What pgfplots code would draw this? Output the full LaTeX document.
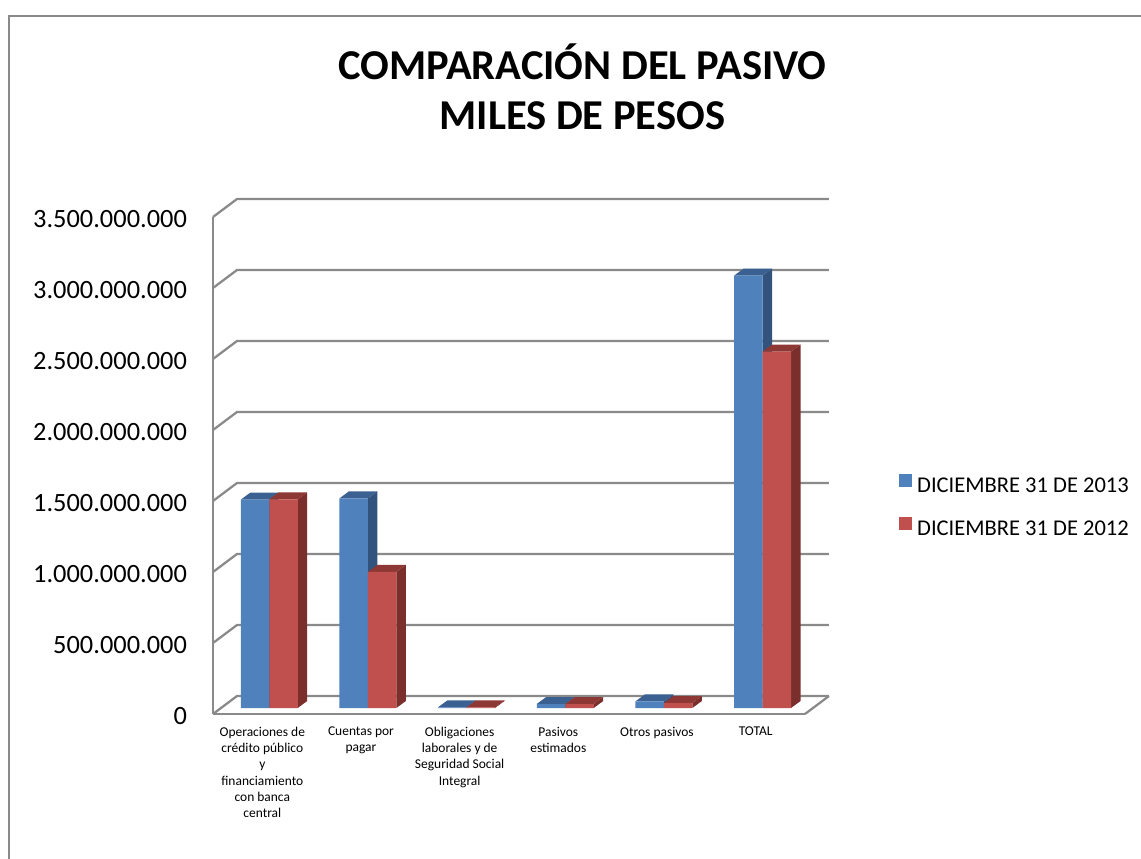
\documentclass[border=0pt]{standalone}
\usepackage{pgfplots}
\usepackage{pgfplotstable}
\usepackage{fontspec}
\setmainfont{Carlito}
\pgfplotsset{compat=1.18}
\definecolor{bluefront}{HTML}{4F81BD}
\definecolor{redfront}{HTML}{C0504D}
\definecolor{blueside}{HTML}{31537D}
\definecolor{bluetop}{HTML}{3A6191}
\definecolor{redside}{HTML}{7B2F2D}
\definecolor{redtop}{HTML}{8E3836}
\definecolor{axisgray}{HTML}{8A8A8A}
% values in thousands of pesos
\pgfplotstableread{
k  a          b
0  1467000000 1470000000
1  1476000000 958000000
2  5000000    5000000
3  28000000   28000000
4  46000000   35000000
5  3045000000 2510000000
}\pasivo
% faces of a cuboid: w = along width, d = along depth, h = 0 at base, 1 at value
\pgfplotstableread{
w d h
1 0 0
1 1 0
1 1 1
1 0 1
}\sideface
\pgfplotstableread{
w d h
0 0 1
1 0 1
1 1 1
0 1 1
}\topface
\pgfplotstableread{
d x
0 0
1 0
1 1
}\wallline
% px -> data: 98.667 px per category, 71 px per 5e8
\newcommand\facesfor[4]{% series column, left offset px, side colour, top colour
  \pgfplotsinvokeforeach{0,1,2,3,4,5}{%
    \pgfplotstablegetelem{##1}{#1}\of\pasivo
    \edef\barval{\pgfplotsretval}%
    \addplot[fill=#3,draw=none,forget plot] table[
      x expr={##1+(#2+\thisrow{w}*28.5+\thisrow{d}*9.5)/98.667},
      y expr={\barval*\thisrow{h}+(6+\thisrow{d}*7)*7042254}] {\sideface} -- cycle;
    \addplot[fill=#4,draw=none,forget plot] table[
      x expr={##1+(#2+\thisrow{w}*28.5+\thisrow{d}*9.5)/98.667},
      y expr={\barval*\thisrow{h}+(6+\thisrow{d}*7)*7042254}] {\topface} -- cycle;
  }%
}
\begin{document}
\begin{tikzpicture}
\useasboundingbox (-159.75pt,-108.75pt) rectangle (696pt,535.5pt);
\draw[axisgray,line width=1pt] (-153pt,-108.75pt) -- (-153pt,523.5pt) -- (696pt,523.5pt);
\begin{axis}[
  scale only axis,
  width=444pt, height=372.75pt,
  xmin=-0.5, xmax=5.5, ymin=0, ymax=3500000000,
  clip=false,
  axis x line*=bottom, axis y line*=left,
  axis line style={axisgray,line width=1.5pt,-},
  major tick length=0pt,
  xtick={0,1,2,3,4,5},
  xticklabels={
    {Operaciones de\\crédito público\\y\\financiamiento\\con banca\\central},
    {Cuentas por\\pagar},
    {Obligaciones\\laborales y de\\Seguridad Social\\Integral},
    {Pasivos\\estimados},
    {Otros pasivos},
    {TOTAL}},
  xticklabel style={align=center,anchor=north,font=\fontsize{10.1}{12.2}\selectfont,yshift=-6.2pt},
  ytick={0,500000000,1000000000,1500000000,2000000000,2500000000,3000000000,3500000000},
  scaled y ticks=false,
  /pgf/number format/fixed,
  /pgf/number format/precision=0,
  /pgf/number format/1000 sep={.},
  /pgf/number format/assume math mode=true,
  yticklabel style={font=\fontsize{19.8}{22}\selectfont,xshift=-16pt,yshift=-1.6pt},
  title={COMPARACIÓN DEL PASIVO\\MILES DE PESOS},
  title style={align=center,font=\bfseries\fontsize{31.9}{37.5}\selectfont,at={(axis description cs:0.624,1.2455)},anchor=center},
  legend style={draw=none,fill=none,at={(axis description cs:1.1585,0.4165)},anchor=west,
    font=\fontsize{16.9}{18}\selectfont,row sep=14.3pt,inner sep=0pt,outer sep=0pt,column sep=2pt},
  legend cell align=left,
]
% back wall lines
\pgfplotsinvokeforeach{0,500000000,1000000000,1500000000,2000000000,2500000000,3000000000,3500000000}{%
  \addplot[axisgray,line width=1.7pt,forget plot] table[
    x expr={-0.5+\thisrow{d}*0.2432+\thisrow{x}*6},
    y expr={#1+\thisrow{d}*126760563}] {\wallline};
}
% floor right edge
\addplot[axisgray,line width=1.7pt,forget plot] coordinates {(5.5,0) (5.7432,126760563)};
% series 2013
\facesfor{a}{-21.63}{blueside}{bluetop}
\addplot[ybar,bar width=21.4pt,bar shift=-5.47pt,fill=bluefront,draw=none,yshift=4.5pt,
  legend image code/.code={\fill[bluefront] (0pt,-4.9pt) rectangle (9.75pt,4.9pt);}]
  table[x=k,y=a] {\pasivo};
\addlegendentry{DICIEMBRE 31 DE 2013}
% series 2012
\facesfor{b}{6.87}{redside}{redtop}
\addplot[ybar,bar width=21.4pt,bar shift=15.9pt,fill=redfront,draw=none,yshift=4.5pt,
  legend image code/.code={\fill[redfront] (0pt,-4.9pt) rectangle (9.75pt,4.9pt);}]
  table[x=k,y=b] {\pasivo};
\addlegendentry{DICIEMBRE 31 DE 2012}
\end{axis}
\end{tikzpicture}
\end{document}
